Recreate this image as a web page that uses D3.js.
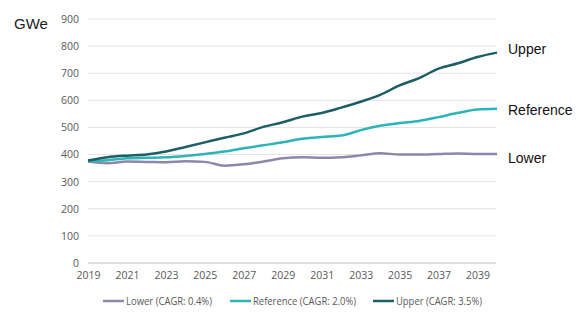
<!DOCTYPE html>
<html>
<head>
<meta charset="utf-8">
<script src="https://cdn.jsdelivr.net/npm/d3@7"></script>
<style>
  body { margin: 0; background: #fff; }
  svg { display: block; }
  .tick text { font-family: "Open Sans", sans-serif; font-size: 10.5px; fill: #595959; }
</style>
</head>
<body>
<div id="plot"></div>
<script>
// data
var years = d3.range(2019, 2041);
var lower = [374, 368, 374, 373, 372, 375, 373, 359, 364, 374, 386, 390, 388, 390, 397, 405, 400, 400, 402, 404, 402, 402];
var reference = [376, 379, 386, 388, 390, 395, 402, 411, 423, 434, 445, 458, 465, 470, 490, 506, 516, 524, 538, 554, 566, 569];
var upper = [378, 390, 396, 400, 411, 428, 445, 462, 478, 502, 519, 540, 553, 573, 595, 620, 655, 682, 717, 737, 760, 776];
var yTicks = [0, 100, 200, 300, 400, 500, 600, 700, 800, 900];
var xTicks = [2019, 2021, 2023, 2025, 2027, 2029, 2031, 2033, 2035, 2037, 2039];

var series = [
  {name: 'Lower', legend: 'Lower (CAGR: 0.4%)', values: lower, color: '#8b88a9'},
  {name: 'Reference', legend: 'Reference (CAGR: 2.0%)', values: reference, color: '#2db4b9'},
  {name: 'Upper', legend: 'Upper (CAGR: 3.5%)', values: upper, color: '#1c5e66'}
];

var width = 584, height = 327;

var svg = d3.select('#plot')
  .append('svg')
  .attr('width', width)
  .attr('height', height);

var x = d3.scaleLinear().domain([2019, 2040]).range([88, 497]);
var y = d3.scaleLinear().domain([0, 900]).range([263, 19]);

// grid lines
svg.append('g')
  .selectAll('line')
  .data(yTicks)
  .join('line')
  .attr('x1', 88)
  .attr('x2', 496)
  .attr('y1', d => y(d))
  .attr('y2', d => y(d))
  .style('stroke', d => d === 0 ? '#bfbfbf' : '#e3e3e3')
  .style('stroke-width', '1px');

// y axis labels
var yAxis = svg.append('g')
  .attr('transform', 'translate(79,0)')
  .call(d3.axisLeft(y).tickValues(yTicks).tickSize(0).tickPadding(0));
yAxis.select('.domain').remove();

// x axis labels
var xAxis = svg.append('g')
  .attr('transform', 'translate(0,' + (y(0) + 9) + ')')
  .call(d3.axisBottom(x).tickValues(xTicks).tickFormat(d3.format('d')).tickSize(0).tickPadding(0));
xAxis.select('.domain').remove();

svg.append('text')
  .attr('x', 14)
  .attr('y', 29)
  .style('font-family', 'Liberation Sans, Arial, sans-serif')
  .style('font-size', '15px')
  .style('fill', '#222')
  .text('GWe');

// lines
var line = d3.line()
  .x((d, i) => x(years[i]))
  .y(d => y(d))
  .curve(d3.curveMonotoneX);

svg.append('g')
  .selectAll('path')
  .data(series)
  .join('path')
  .attr('d', d => line(d.values))
  .style('fill', 'none')
  .style('stroke', d => d.color)
  .style('stroke-width', '2.5px');

// end labels
svg.append('g')
  .selectAll('text')
  .data(series)
  .join('text')
  .attr('x', 508)
  .attr('y', d => y(d.values[d.values.length - 1]) + (d.name === 'Upper' ? -4 : d.name === 'Lower' ? 4 : 1))
  .attr('dy', '0.35em')
  .style('font-family', 'Liberation Sans, Arial, sans-serif')
  .style('font-size', '14px')
  .style('fill', '#111')
  .text(d => d.name);

// legend
var legendX = [103, 230, 373];
var legendW = [86, 103, 86];
var legend = svg.append('g')
  .selectAll('g')
  .data(series)
  .join('g')
  .attr('transform', (d, i) => 'translate(' + legendX[i] + ',301)');
legend.append('line')
  .attr('x1', 0)
  .attr('x2', 21)
  .style('stroke', d => d.color)
  .style('stroke-width', '2.5px');
legend.append('text')
  .attr('x', 23)
  .attr('dy', '0.35em')
  .attr('textLength', (d, i) => legendW[i])
  .attr('lengthAdjust', 'spacingAndGlyphs')
  .style('font-family', '"Open Sans", sans-serif')
  .style('font-size', '10.5px')
  .style('fill', '#595959')
  .text(d => d.legend);
</script>
</body>
</html>
